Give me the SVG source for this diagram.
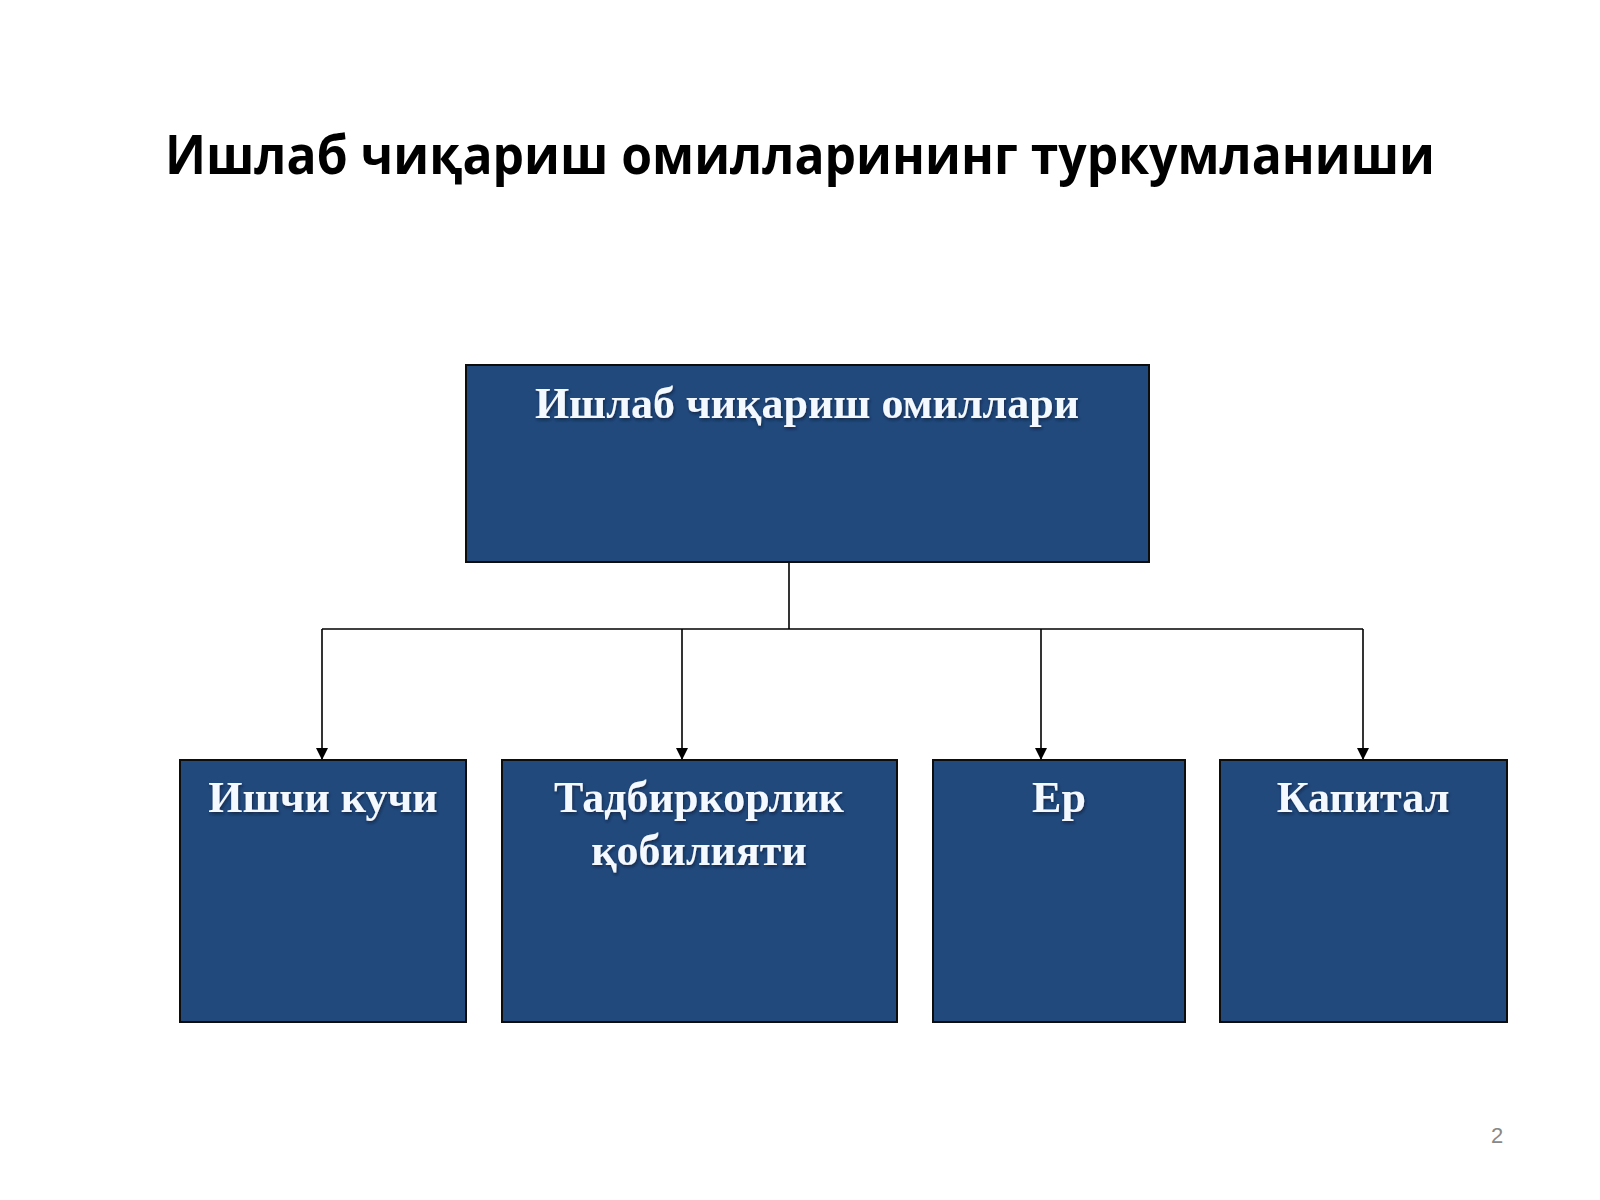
<svg xmlns="http://www.w3.org/2000/svg" width="1600" height="1200" viewBox="0 0 1600 1200">
<defs>
<style>
.box{fill:#21497C;stroke:#0d0d0d;stroke-width:2}
.lbl{font-family:"Liberation Serif","DejaVu Serif",serif;font-weight:bold;font-size:44px;fill:#F4F8FF;text-anchor:middle}
.con{fill:none;stroke:#000;stroke-width:1.6}
</style>
<marker id="ah" viewBox="0 0 12 12" refX="12" refY="6" markerWidth="12" markerHeight="12" markerUnits="userSpaceOnUse" orient="auto">
<path d="M0,0 L12,6 L0,12 z" fill="#000"/>
</marker>
<filter id="sh" x="-10%" y="-30%" width="120%" height="160%">
<feDropShadow dx="1" dy="2" stdDeviation="1.5" flood-color="#0a1a33" flood-opacity="0.7"/>
</filter>
</defs>
<rect width="1600" height="1200" fill="#fff"/>
<text x="800" y="174" font-family="'Open Sans','Noto Sans',sans-serif" font-weight="bold" font-size="54" text-anchor="middle" textLength="1270" lengthAdjust="spacingAndGlyphs" fill="#000">Ишлаб чиқариш омилларининг туркумланиши</text>
<g id="connectors">
<path class="con" d="M789,562 V629"/>
<path class="con" d="M322,629 H1363"/>
<path class="con" d="M322,629 V760" marker-end="url(#ah)"/>
<path class="con" d="M682,629 V760" marker-end="url(#ah)"/>
<path class="con" d="M1041,629 V760" marker-end="url(#ah)"/>
<path class="con" d="M1363,629 V760" marker-end="url(#ah)"/>
</g>
<g id="root">
<rect class="box" x="466" y="365" width="683" height="197"/>
<text class="lbl" x="807" y="418" filter="url(#sh)">Ишлаб чиқариш омиллари</text>
</g>
<g id="ishchi">
<rect class="box" x="180" y="760" width="286" height="262"/>
<text class="lbl" x="323" y="812" filter="url(#sh)">Ишчи кучи</text>
</g>
<g id="tadbirkorlik">
<rect class="box" x="502" y="760" width="395" height="262"/>
<text class="lbl" x="699" y="812" filter="url(#sh)">Тадбиркорлик</text>
<text class="lbl" x="699" y="865" filter="url(#sh)">қобилияти</text>
</g>
<g id="er">
<rect class="box" x="933" y="760" width="252" height="262"/>
<text class="lbl" x="1059" y="812" filter="url(#sh)">Ер</text>
</g>
<g id="kapital">
<rect class="box" x="1220" y="760" width="287" height="262"/>
<text class="lbl" x="1363" y="812" filter="url(#sh)">Капитал</text>
</g>
<text x="1497" y="1143" font-family="'Liberation Sans',sans-serif" font-size="22" fill="#888" text-anchor="middle">2</text>
</svg>
